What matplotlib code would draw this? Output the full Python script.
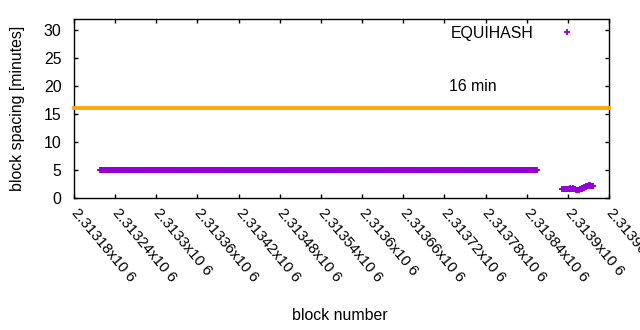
import numpy as np
import matplotlib
matplotlib.use("Agg")
import matplotlib.pyplot as plt

plt.rcParams['font.family'] = ['Liberation Sans', 'DejaVu Sans']

# ---- data ----
# segment 1: constant 5-minute spacing
seg1_first_block = 2313218
seg1_last_block = 2313855
seg1_spacing = 5.0
# segment 2: short spacing after the change
seg2_blocks = list(range(2313892, 2313938))
seg2_spacing = [1.5, 1.5, 1.55, 1.5, 1.45, 1.5, 1.55, 1.6, 1.55, 1.5,
                1.6, 1.65, 1.6, 1.55, 1.6, 1.65, 1.6, 1.55, 1.5, 1.45,
                1.4, 1.35, 1.4, 1.35, 1.4, 1.45, 1.5, 1.55, 1.6, 1.65,
                1.7, 1.75, 1.8, 1.85, 1.9, 2.0, 2.05, 2.1, 2.15, 2.2,
                2.2, 2.15, 2.1, 2.05, 2.0, 2.0]
target_minutes = 16
xticks = list(range(2313180, 2313961, 60))
xticklabels = ['%gx10 6' % (v / 1e6) for v in xticks]
yticks = [0, 5, 10, 15, 20, 25, 30]

blocks1 = np.arange(seg1_first_block, seg1_last_block + 1)
spacing1 = np.full(blocks1.shape, seg1_spacing)
blocks = np.concatenate([blocks1, np.array(seg2_blocks)])
spacing = np.concatenate([spacing1, np.array(seg2_spacing)])

purple = '#9400d3'
orange = '#ffa500'
FS = 11.4

fig = plt.figure(figsize=(6.4, 3.3), dpi=100)
ax = fig.add_axes([74/640, 1-197.5/330, (609-74)/640, (197.5-19)/330])

ax.plot(blocks, spacing, linestyle='none', marker='+', markersize=5.0,
        markeredgewidth=1.3, color=purple, label='EQUIHASH', zorder=3)
ax.axhline(target_minutes, color=orange, lw=2.7, zorder=4, clip_on=False,
           solid_capstyle='projecting')
ax.text(2313727, 19.9, '16 min', fontsize=FS, ha='left', va='center')

ax.set_xlim(2313180, 2313960)
ax.set_ylim(0, 32)
ax.set_xticks(xticks)
ax.set_xticklabels(xticklabels, rotation=-50, ha='left', va='center',
                   rotation_mode='anchor', fontsize=10.8)
ax.set_yticks(yticks)
ax.tick_params(axis='both', direction='in', length=3, width=1,
               top=True, right=True)
ax.tick_params(axis='y', pad=9, labelsize=FS)
ax.tick_params(axis='x', pad=9.5)
for s in ax.spines.values():
    s.set_linewidth(1)

ax.set_xlabel('block number', fontsize=FS)
ax.xaxis.set_label_coords(0.497, -0.62)
ax.set_ylabel('block spacing [minutes]', fontsize=FS)
ax.yaxis.set_label_coords(-0.092, 0.5)

ax.legend(loc='upper right', bbox_to_anchor=(0.972, 1.024), frameon=False,
          markerfirst=False, fontsize=FS, handlelength=2.0,
          handletextpad=1.15, borderpad=0.2)

fig.savefig('out.png', dpi=100)
